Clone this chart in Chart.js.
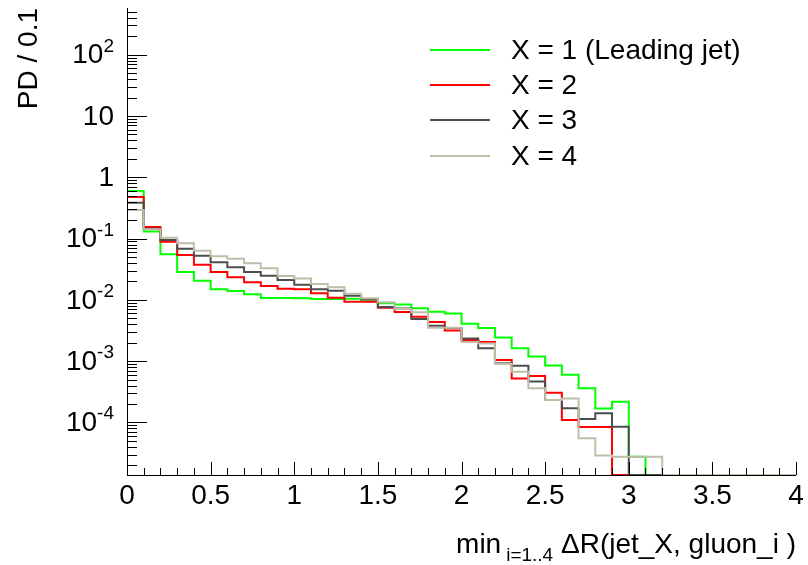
<!DOCTYPE html>
<html>
<head>
<meta charset="utf-8">
<script src="https://cdn.jsdelivr.net/npm/chart.js@4.4.1/dist/chart.umd.min.js"></script>
<style>
  html, body { margin: 0; padding: 0; background: #ffffff; }
  #c { display: block; }
</style>
</head>
<body>
<canvas id="c" width="808" height="565"></canvas>
<script>
// ---- data ----
const binLowEdges = [0.0,0.1,0.2,0.3,0.4,0.5,0.6,0.7,0.8,0.9,
                     1.0,1.1,1.2,1.3,1.4,1.5,1.6,1.7,1.8,1.9,
                     2.0,2.1,2.2,2.3,2.4,2.5,2.6,2.7,2.8,2.9,
                     3.0,3.1,3.2,3.3,3.4,3.5,3.6,3.7,3.8,3.9];
const histUpperEdge = 4.0;

const seriesNames = ['X = 1 (Leading jet)', 'X = 2', 'X = 3', 'X = 4'];

const jet1Values = [0.598,0.130,0.0555,0.0285,0.0206,0.0149,0.0140,0.0123,0.0107,0.0107,
                    0.0106,0.01035,0.01035,0.01046,0.01008,0.00881,0.00841,0.00730,0.00643,0.00600,
                    0.00409,0.00348,0.00244,0.00162,0.00119,0.000848,0.000600,0.000361,0.000169,0.000218,
                    0.0000277,0,0,0,0,0,0,0,0,0];
const jet2Values = [0.477,0.155,0.0890,0.0540,0.0375,0.0285,0.0234,0.0194,0.0169,0.0152,
                    0.0149,0.0128,0.01086,0.00935,0.00935,0.00746,0.00635,0.00532,0.00436,0.00317,
                    0.00222,0.00206,0.00105,0.000522,0.000574,0.000306,0.000110,0.0000845,0.0000845,0,
                    0,0,0,0,0,0,0,0,0,0];
const jet3Values = [0.385,0.145,0.0948,0.0684,0.0526,0.0410,0.0340,0.0285,0.0248,0.0211,
                    0.0177,0.0149,0.0141,0.01172,0.01023,0.00766,0.00724,0.00488,0.00379,0.00348,
                    0.00235,0.00162,0.000924,0.000845,0.000467,0.000233,0.000171,0.000114,0.000141,0.0000855,
                    0,0,0,0,0,0,0,0,0,0];
const jet4Values = [0.293,0.142,0.1035,0.0838,0.0635,0.0514,0.0470,0.0395,0.0328,0.0245,
                    0.0223,0.0182,0.0161,0.01262,0.01062,0.00914,0.00711,0.00628,0.00352,0.00352,
                    0.00206,0.00194,0.000910,0.000675,0.000361,0.000233,0.000246,0.0000552,0.0000290,0.0000277,
                    0.0000277,0.0000277,0,0,0,0,0,0,0,0];

const xTickValues = [0, 0.5, 1, 1.5, 2, 2.5, 3, 3.5, 4];
const xTickLabels = ['0', '0.5', '1', '1.5', '2', '2.5', '3', '3.5', '4'];
const yTickValues = [100, 10, 1, 0.1, 0.01, 0.001, 0.0001];
const yTickBases  = ['10', '10', '1', '10', '10', '10', '10'];
const yTickExps   = ['2', '', '', '-1', '-2', '-3', '-4'];

const Y_MIN = 1.39e-5;
const Y_MAX = 578;

const seriesValues = [jet1Values, jet2Values, jet3Values, jet4Values];
const seriesColors = ['#00ff00', '#ff0000', '#4d4d4d', '#c0bea9'];

const FONT = '"Liberation Sans", Arial, Helvetica, sans-serif';
const BIG = 28, SMALL = 19;

// Empty bins are drawn by ROOT on the floor of the frame.
function histPoints(vals) {
  const pts = binLowEdges.map((x, i) => ({ x: x, y: vals[i] > 0 ? vals[i] : Y_MIN }));
  const last = vals[vals.length - 1];
  pts.push({ x: histUpperEdge, y: last > 0 ? last : Y_MIN });
  return pts;
}

const datasets = seriesValues.map((vals, i) => ({
  label: seriesNames[i],
  data: histPoints(vals),
  borderColor: seriesColors[i],
  backgroundColor: seriesColors[i],
  borderWidth: 2,
  pointRadius: 0,
  stepped: 'before',
  fill: false,
  order: 4 - i
}));

const rootPlugin = {
  id: 'rootStyle',
  afterDatasetsDraw(chart) {
    const ctx = chart.ctx;
    const a = chart.chartArea;
    const xs = chart.scales.x, ys = chart.scales.y;
    ctx.save();
    ctx.strokeStyle = '#000';
    ctx.lineWidth = 1;
    // axis lines
    ctx.beginPath();
    ctx.moveTo(Math.round(a.left) + 0.5, a.top);
    ctx.lineTo(Math.round(a.left) + 0.5, a.bottom);
    ctx.moveTo(a.left, Math.round(a.bottom) + 0.5);
    ctx.lineTo(a.right, Math.round(a.bottom) + 0.5);
    ctx.stroke();
    // y ticks (inside, log)
    ctx.beginPath();
    for (let e = -6; e <= 3; e++) {
      for (let m = 1; m <= 9; m++) {
        const v = m * Math.pow(10, e);
        if (v < Y_MIN || v > Y_MAX) continue;
        const py = Math.round(ys.getPixelForValue(v)) + 0.5;
        const len = m === 1 ? 20 : 10;
        ctx.moveTo(a.left, py);
        ctx.lineTo(a.left + len, py);
      }
    }
    // x ticks
    for (let k = 0; k <= 40; k++) {
      const v = k / 10;
      const px = Math.round(xs.getPixelForValue(v)) + 0.5;
      const len = (k % 5 === 0) ? 13 : 7;
      ctx.moveTo(px, a.bottom);
      ctx.lineTo(px, a.bottom - len);
    }
    ctx.stroke();

    ctx.fillStyle = '#000';
    // x labels
    ctx.font = BIG + 'px ' + FONT;
    ctx.textAlign = 'center';
    ctx.textBaseline = 'top';
    xTickValues.forEach((v, i) => {
      ctx.fillText(xTickLabels[i], xs.getPixelForValue(v), a.bottom + 7);
    });
    // y labels with superscripts
    yTickValues.forEach((v, i) => {
      const py = ys.getPixelForValue(v);
      const right = a.left - 13;
      ctx.font = BIG + 'px ' + FONT;
      const bw = ctx.measureText(yTickBases[i]).width;
      let ew = 0;
      if (yTickExps[i]) {
        ctx.font = SMALL + 'px ' + FONT;
        ew = ctx.measureText(yTickExps[i]).width;
      }
      const x0 = right - bw - ew;
      ctx.font = BIG + 'px ' + FONT;
      ctx.textAlign = 'left';
      ctx.textBaseline = 'middle';
      ctx.fillText(yTickBases[i], x0, py + 1);
      if (yTickExps[i]) {
        ctx.font = SMALL + 'px ' + FONT;
        ctx.textBaseline = 'alphabetic';
        ctx.fillText(yTickExps[i], x0 + bw, py - 3);
      }
    });
    // y title
    ctx.save();
    ctx.translate(29, 8);
    ctx.rotate(-Math.PI / 2);
    ctx.font = BIG + 'px ' + FONT;
    ctx.textAlign = 'right';
    ctx.textBaseline = 'middle';
    ctx.fillText('PD / 0.1', 0, 0);
    ctx.restore();
    // x title: min_{i=1..4} ΔR(jet_X, gluon_i )
    {
      const partA = 'min', partSub = 'i=1..4', partB = ' \u0394R(jet_X, gluon_i )';
      ctx.textAlign = 'left';
      ctx.textBaseline = 'alphabetic';
      ctx.font = BIG + 'px ' + FONT;
      const wA = ctx.measureText(partA).width;
      const wB = ctx.measureText(partB).width;
      ctx.font = SMALL + 'px ' + FONT;
      const wS = ctx.measureText(partSub).width;
      const gap = 5;
      const xEnd = a.right;
      let x = xEnd - (wA + gap + wS + wB);
      const base = 553;
      ctx.font = BIG + 'px ' + FONT;
      ctx.fillText(partA, x, base);
      x += wA + gap;
      ctx.font = SMALL + 'px ' + FONT;
      ctx.fillText(partSub, x, base + 8);
      x += wS;
      ctx.font = BIG + 'px ' + FONT;
      ctx.fillText(partB, x, base);
    }
    // legend
    const legY = [50, 85, 120, 156];
    seriesNames.forEach((name, i) => {
      ctx.strokeStyle = seriesColors[i];
      ctx.lineWidth = 2;
      ctx.beginPath();
      ctx.moveTo(430, legY[i]);
      ctx.lineTo(490, legY[i]);
      ctx.stroke();
      ctx.fillStyle = '#000';
      ctx.font = BIG + 'px ' + FONT;
      ctx.textAlign = 'left';
      ctx.textBaseline = 'middle';
      ctx.fillText(name, 511, legY[i] + 1);
    });
    ctx.restore();
  }
};

new Chart(document.getElementById('c'), {
  type: 'line',
  data: { datasets: datasets },
  options: {
    responsive: false,
    animation: false,
    devicePixelRatio: 1,
    layout: { padding: { top: 8, right: 12, left: 0, bottom: 0 } },
    plugins: { legend: { display: false }, tooltip: { enabled: false }, title: { display: false } },
    elements: { point: { radius: 0 }, line: { tension: 0 } },
    scales: {
      x: {
        type: 'linear', min: 0, max: 4,
        grid: { display: false }, border: { display: false },
        ticks: { display: false },
        afterFit(s) { s.height = 90; }
      },
      y: {
        type: 'logarithmic', min: Y_MIN, max: Y_MAX,
        grid: { display: false }, border: { display: false },
        ticks: { display: false },
        afterFit(s) { s.width = 127; }
      }
    }
  },
  plugins: [rootPlugin]
});
</script>
</body>
</html>
